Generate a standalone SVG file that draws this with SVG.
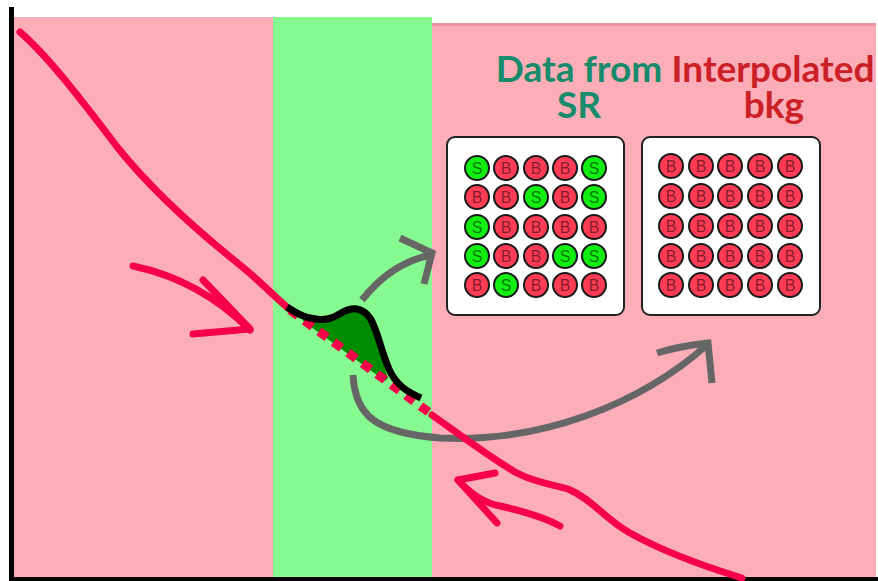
<svg xmlns="http://www.w3.org/2000/svg" width="878" height="581" viewBox="0 0 878 581">
  <defs>
    <style>
      .bg-pink { fill: #fbadb8; }
      .bg-green { fill: #87f991; }
      .axis { fill: #000; }
      .curve { fill: none; stroke: #f6004c; stroke-width: 7; stroke-linecap: round; stroke-linejoin: round; }
      .dashed { fill: none; stroke: #f6004c; stroke-width: 9; stroke-dasharray: 10 8; }
      .signal { fill: none; stroke: #000; stroke-width: 7; stroke-linejoin: round; }
      .peak { fill: #008c00; }
      .gray { fill: none; stroke: #666; stroke-width: 7; stroke-linecap: butt; stroke-linejoin: miter; }
      .panel { fill: #fff; stroke: #222; stroke-width: 2; }
      .s { fill: #12ee12; stroke: #1a1a1a; stroke-width: 2; }
      .b { fill: #ff3b55; stroke: #1a1a1a; stroke-width: 2; }
      .lbl { font-family: "Liberation Sans", Arial, sans-serif; font-size: 16px; fill: #000; fill-opacity: 0.5; text-anchor: middle; }
      .title { font-family: Lato, "Open Sans", sans-serif; font-weight: bold; font-size: 37px; text-anchor: middle; }
    </style>
  </defs>

  <rect width="878" height="581" fill="#fff"/>

  <!-- background bands -->
  <g id="bands">
    <rect class="bg-pink" x="14" y="17" width="260" height="561"/>
    <rect class="bg-green" x="273" y="17" width="159" height="561"/>
    <rect class="bg-pink" x="432" y="23" width="444" height="555"/>
    <rect x="432" y="23" width="444" height="3" fill="#f3929f"/>
  </g>

  <!-- axes -->
  <g id="axes">
    <rect class="axis" x="9" y="7" width="5" height="574"/>
    <rect class="axis" x="9" y="577" width="869" height="4"/>
  </g>

  <!-- titles -->
  <g id="title-sr">
    <text class="title" x="579" y="82" fill="#178b6b">Data from</text>
    <text class="title" x="579" y="118" fill="#178b6b">SR</text>
  </g>
  <g id="title-bkg">
    <text class="title" x="773" y="82" fill="#cc2027">Interpolated</text>
    <text class="title" x="774" y="118" fill="#cc2027">bkg</text>
  </g>

  <!-- signal region sample grid -->
  <g id="panel-sr">
    <rect class="panel" x="447" y="137" width="177" height="178" rx="8"/>
    <g>
      <circle class="s" cx="477" cy="168" r="12"/><text class="lbl" x="477" y="174">S</text>
      <circle class="b" cx="506" cy="168" r="12"/><text class="lbl" x="506" y="174">B</text>
      <circle class="b" cx="536" cy="168" r="12"/><text class="lbl" x="536" y="174">B</text>
      <circle class="b" cx="565" cy="168" r="12"/><text class="lbl" x="565" y="174">B</text>
      <circle class="s" cx="594" cy="168" r="12"/><text class="lbl" x="594" y="174">S</text>

      <circle class="b" cx="477" cy="197" r="12"/><text class="lbl" x="477" y="203">B</text>
      <circle class="b" cx="506" cy="197" r="12"/><text class="lbl" x="506" y="203">B</text>
      <circle class="s" cx="536" cy="197" r="12"/><text class="lbl" x="536" y="203">S</text>
      <circle class="b" cx="565" cy="197" r="12"/><text class="lbl" x="565" y="203">B</text>
      <circle class="s" cx="594" cy="197" r="12"/><text class="lbl" x="594" y="203">S</text>

      <circle class="s" cx="477" cy="227" r="12"/><text class="lbl" x="477" y="233">S</text>
      <circle class="b" cx="506" cy="227" r="12"/><text class="lbl" x="506" y="233">B</text>
      <circle class="b" cx="536" cy="227" r="12"/><text class="lbl" x="536" y="233">B</text>
      <circle class="b" cx="565" cy="227" r="12"/><text class="lbl" x="565" y="233">B</text>
      <circle class="b" cx="594" cy="227" r="12"/><text class="lbl" x="594" y="233">B</text>

      <circle class="s" cx="477" cy="256" r="12"/><text class="lbl" x="477" y="262">S</text>
      <circle class="b" cx="506" cy="256" r="12"/><text class="lbl" x="506" y="262">B</text>
      <circle class="b" cx="536" cy="256" r="12"/><text class="lbl" x="536" y="262">B</text>
      <circle class="s" cx="565" cy="256" r="12"/><text class="lbl" x="565" y="262">S</text>
      <circle class="s" cx="594" cy="256" r="12"/><text class="lbl" x="594" y="262">S</text>

      <circle class="b" cx="477" cy="285" r="12"/><text class="lbl" x="477" y="291">B</text>
      <circle class="s" cx="506" cy="285" r="12"/><text class="lbl" x="506" y="291">S</text>
      <circle class="b" cx="536" cy="285" r="12"/><text class="lbl" x="536" y="291">B</text>
      <circle class="b" cx="565" cy="285" r="12"/><text class="lbl" x="565" y="291">B</text>
      <circle class="b" cx="594" cy="285" r="12"/><text class="lbl" x="594" y="291">B</text>
    </g>
  </g>

  <!-- interpolated background grid -->
  <g id="panel-bkg">
    <rect class="panel" x="642" y="137" width="178" height="178" rx="8"/>
    <g>
      <circle class="b" cx="671" cy="166" r="12"/><text class="lbl" x="671" y="172">B</text>
      <circle class="b" cx="701" cy="166" r="12"/><text class="lbl" x="701" y="172">B</text>
      <circle class="b" cx="730" cy="166" r="12"/><text class="lbl" x="730" y="172">B</text>
      <circle class="b" cx="760" cy="166" r="12"/><text class="lbl" x="760" y="172">B</text>
      <circle class="b" cx="790" cy="166" r="12"/><text class="lbl" x="790" y="172">B</text>

      <circle class="b" cx="671" cy="196" r="12"/><text class="lbl" x="671" y="202">B</text>
      <circle class="b" cx="701" cy="196" r="12"/><text class="lbl" x="701" y="202">B</text>
      <circle class="b" cx="730" cy="196" r="12"/><text class="lbl" x="730" y="202">B</text>
      <circle class="b" cx="760" cy="196" r="12"/><text class="lbl" x="760" y="202">B</text>
      <circle class="b" cx="790" cy="196" r="12"/><text class="lbl" x="790" y="202">B</text>

      <circle class="b" cx="671" cy="226" r="12"/><text class="lbl" x="671" y="232">B</text>
      <circle class="b" cx="701" cy="226" r="12"/><text class="lbl" x="701" y="232">B</text>
      <circle class="b" cx="730" cy="226" r="12"/><text class="lbl" x="730" y="232">B</text>
      <circle class="b" cx="760" cy="226" r="12"/><text class="lbl" x="760" y="232">B</text>
      <circle class="b" cx="790" cy="226" r="12"/><text class="lbl" x="790" y="232">B</text>

      <circle class="b" cx="671" cy="256" r="12"/><text class="lbl" x="671" y="262">B</text>
      <circle class="b" cx="701" cy="256" r="12"/><text class="lbl" x="701" y="262">B</text>
      <circle class="b" cx="730" cy="256" r="12"/><text class="lbl" x="730" y="262">B</text>
      <circle class="b" cx="760" cy="256" r="12"/><text class="lbl" x="760" y="262">B</text>
      <circle class="b" cx="790" cy="256" r="12"/><text class="lbl" x="790" y="262">B</text>

      <circle class="b" cx="671" cy="285" r="12"/><text class="lbl" x="671" y="291">B</text>
      <circle class="b" cx="701" cy="285" r="12"/><text class="lbl" x="701" y="291">B</text>
      <circle class="b" cx="730" cy="285" r="12"/><text class="lbl" x="730" y="291">B</text>
      <circle class="b" cx="760" cy="285" r="12"/><text class="lbl" x="760" y="291">B</text>
      <circle class="b" cx="790" cy="285" r="12"/><text class="lbl" x="790" y="291">B</text>
    </g>
  </g>

  <!-- signal bump over the falling background -->
  <g id="signal">
    <path class="peak" d="M303,318 C322,324 334,318 343,312 C352,307 362,307 370,318 C378,332 382,360 388,378 L385,381 L303,321 Z"/>
  </g>

  <!-- connectors: gray data-flow arrows -->
  <g id="connectors">
    <path class="gray" d="M362,300 Q392,262 432,255"/>
    <path class="gray" d="M400,238 L432,253 L424,284"/>
    <path class="gray" d="M353,375 C355,415 375,433 440,438 C540,443 640,405 708,344"/>
    <path class="gray" d="M657,353 Q680,346 708,343 L712,383"/>
  </g>

  <!-- background spectrum -->
  <g id="background-curve">
    <path class="curve" d="M20,32 C50,58 85,105 118,148 C150,188 190,225 240,265 C262,283 276,298 288,308"/>
    <path class="dashed" d="M290,310 L430,413"/>
    <path class="curve" d="M432,415 C460,435 488,456 515,472 C535,483 552,484 568,489 C592,499 606,520 630,533 C662,551 700,565 742,578"/>
  </g>

  <g id="signal-line">
    <path class="signal" d="M287,307 C295,312 300,316 310,318 C325,322 333,318 343,312 C352,307 362,307 370,318 C378,330 383,360 392,375 C400,388 410,393 421,398"/>
  </g>

  <!-- red sideband arrows -->
  <g id="sideband-arrows">
    <path class="curve" d="M133,266 Q200,280 250,330"/>
    <path class="curve" d="M203,280 L250,329 L193,334"/>
    <path class="curve" d="M458,480 Q478,502 500,506 Q540,515 560,526"/>
    <path class="curve" d="M495,473 L458,480 L497,523"/>
  </g>
</svg>
